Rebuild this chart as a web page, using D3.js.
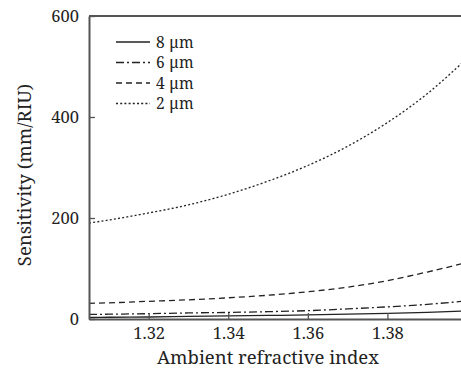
<!DOCTYPE html>
<html>
<head>
<meta charset="utf-8">
<script src="https://cdn.jsdelivr.net/npm/d3@7"></script>
<style>
  body { margin: 0; background: #fff; }
  svg { display: block; }
</style>
</head>
<body>
<div id="d3-container"></div>
<script>
const refIndex = [1.305, 1.31, 1.32, 1.33, 1.34, 1.35, 1.36, 1.37, 1.38, 1.39, 1.40];
const s8 = [3, 3.5, 4, 5, 6, 7, 8, 9.5, 11, 13, 16];
const s6 = [9, 9.5, 10.5, 12, 13, 14.5, 16.5, 20, 24, 29, 36];
const s4 = [31, 32, 35, 38, 42, 47, 54, 63, 76, 93, 112];
const s2 = [190, 196, 210, 226, 247, 273, 304, 342, 389, 446, 516];
const seriesNames = ['8 μm', '6 μm', '4 μm', '2 μm'];
const xTicks = [1.32, 1.34, 1.36, 1.38];
const yTicks = [0, 200, 400, 600];

const width = 461;
const height = 375;
const margin = { top: 16, bottom: 56, left: 89, right: -6 };
const font = 'Noto Serif';

const svg = d3.select('#d3-container')
    .append('svg')
    .attr('width', width)
    .attr('height', height)
    .attr('font-family', font);

const x = d3.scaleLinear()
    .domain([1.305, 1.40])
    .range([margin.left, width - margin.right]);

const y = d3.scaleLinear()
    .domain([0, 600])
    .range([height - margin.bottom, margin.top]);

const dashes = ['none', '8,3,2,3', '6,4', '2,2.2'];
const allSeries = [s8, s6, s4, s2];

const line = d3.line()
    .x(d => x(d[0]))
    .y(d => y(d[1]))
    .curve(d3.curveMonotoneX);

svg.append('g')
    .selectAll('path')
    .data(allSeries)
    .join('path')
    .attr('d', s => line(refIndex.map((r, i) => [r, s[i]])))
    .attr('fill', 'none')
    .attr('stroke', '#222')
    .attr('stroke-width', 1.3)
    .attr('stroke-dasharray', (d, i) => dashes[i]);

// axes
const axisColor = '#555';
svg.append('g')
    .attr('transform', `translate(0,${y(0)})`)
    .call(d3.axisBottom(x).tickValues(xTicks).tickSizeInner(-6).tickSizeOuter(0).tickPadding(8).tickFormat(d3.format('.2f')))
    .call(g => g.attr('font-family', font))
    .call(g => g.select('.domain').attr('stroke', axisColor).attr('stroke-width', 2))
    .call(g => g.selectAll('.tick line').attr('stroke', axisColor).attr('stroke-width', 1.3))
    .call(g => g.selectAll('text').attr('font-size', 16.5).attr('fill', '#222'));

svg.append('g')
    .attr('transform', `translate(${margin.left},0)`)
    .call(d3.axisLeft(y).tickValues(yTicks).tickSizeInner(-6).tickSizeOuter(0).tickPadding(10))
    .call(g => g.attr('font-family', font))
    .call(g => g.select('.domain').attr('stroke', axisColor).attr('stroke-width', 2))
    .call(g => g.selectAll('.tick line').attr('stroke', axisColor).attr('stroke-width', 1.3))
    .call(g => g.selectAll('text').attr('font-size', 16.5).attr('fill', '#222'));

// top frame line
svg.append('line')
    .attr('x1', margin.left).attr('x2', width)
    .attr('y1', y(600)).attr('y2', y(600))
    .attr('stroke', axisColor).attr('stroke-width', 2);

// axis titles
svg.append('text')
    .attr('x', 268).attr('y', 364)
    .attr('text-anchor', 'middle')
    .attr('font-size', 18.5)
    .attr('fill', '#222')
    .text('Ambient refractive index');

svg.append('text')
    .attr('transform', 'translate(31,175) rotate(-90)')
    .attr('text-anchor', 'middle')
    .attr('font-size', 18.5)
    .attr('fill', '#222')
    .text('Sensitivity (mm/RIU)');

// legend
const legend = svg.append('g').selectAll('g')
    .data(seriesNames)
    .join('g')
    .attr('transform', (d, i) => `translate(116,${42 + i * 20.5})`);

legend.append('line')
    .attr('x1', 0).attr('x2', 34)
    .attr('stroke', '#222').attr('stroke-width', 1.3)
    .attr('stroke-dasharray', (d, i) => dashes[i]);

legend.append('text')
    .attr('x', 40).attr('y', 5.5)
    .attr('font-size', 15.5)
    .attr('letter-spacing', 0.4)
    .attr('fill', '#222')
    .text(d => d);
</script>
</body>
</html>
